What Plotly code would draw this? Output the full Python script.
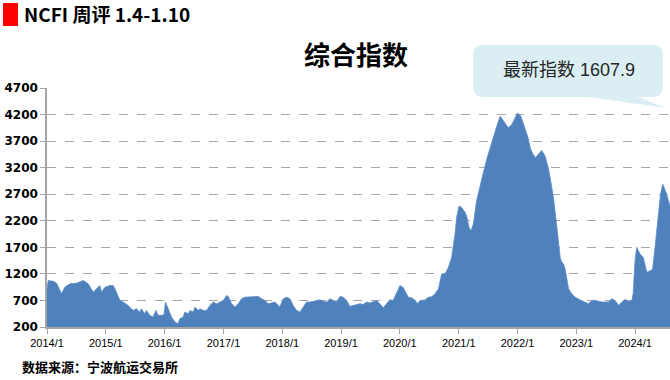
import plotly.graph_objects as go

# ---------------- data ----------------
dates = [
    "2014-01-01", "2014-01-09", "2014-02-09", "2014-03-01", "2014-04-01", "2014-04-22",
    "2014-05-23", "2014-07-03", "2014-08-14", "2014-09-14", "2014-10-15", "2014-11-05",
    "2014-11-25", "2014-12-06", "2014-12-27", "2015-01-26", "2015-02-16", "2015-02-27",
    "2015-03-30", "2015-04-19", "2015-05-20", "2015-06-20", "2015-07-10", "2015-07-31",
    "2015-08-10", "2015-08-31", "2015-09-11", "2015-10-01", "2015-10-22", "2015-11-08",
    "2015-11-23", "2015-12-13", "2015-12-28", "2016-01-07", "2016-01-23", "2016-02-13",
    "2016-03-05", "2016-03-25", "2016-04-05", "2016-04-26", "2016-05-06", "2016-05-27",
    "2016-06-07", "2016-06-27", "2016-07-08", "2016-07-28", "2016-08-08", "2016-08-29",
    "2016-09-18", "2016-10-09", "2016-10-30", "2016-11-19", "2016-12-10", "2016-12-31",
    "2017-01-21", "2017-01-31", "2017-02-21", "2017-03-13", "2017-04-03", "2017-04-23",
    "2017-05-14", "2017-06-25", "2017-08-05", "2017-08-26", "2017-09-16", "2017-10-06",
    "2017-11-17", "2017-12-17", "2018-01-07", "2018-01-28", "2018-02-18", "2018-03-10",
    "2018-03-31", "2018-04-21", "2018-05-11", "2018-06-01", "2018-06-22", "2018-07-13",
    "2018-08-03", "2018-08-23", "2018-09-13", "2018-10-04", "2018-10-24", "2018-11-14",
    "2018-12-05", "2018-12-25", "2019-01-15", "2019-02-05", "2019-02-25", "2019-03-18",
    "2019-04-08", "2019-04-28", "2019-05-19", "2019-06-09", "2019-06-29", "2019-07-20",
    "2019-08-10", "2019-08-30", "2019-09-20", "2019-10-11", "2019-10-31", "2019-11-21",
    "2019-12-12", "2020-01-02", "2020-01-23", "2020-02-02", "2020-02-23", "2020-03-15",
    "2020-04-05", "2020-04-21", "2020-05-06", "2020-06-06", "2020-06-26", "2020-07-17",
    "2020-08-07", "2020-08-28", "2020-09-17", "2020-10-08", "2020-10-29", "2020-11-18",
    "2020-12-09", "2020-12-19", "2021-01-03", "2021-01-19", "2021-02-09", "2021-02-19",
    "2021-03-06", "2021-03-18", "2021-04-02", "2021-04-22", "2021-05-13", "2021-06-03",
    "2021-06-24", "2021-07-14", "2021-08-04", "2021-08-25", "2021-09-15", "2021-10-05",
    "2021-11-05", "2021-11-26", "2021-12-17", "2022-01-01", "2022-01-22", "2022-02-16",
    "2022-03-08", "2022-03-22", "2022-04-08", "2022-04-23", "2022-05-10", "2022-05-31",
    "2022-06-21", "2022-07-11", "2022-07-26", "2022-08-12", "2022-08-29", "2022-09-12",
    "2022-09-23", "2022-10-03", "2022-10-13", "2022-10-24", "2022-11-03", "2022-11-14",
    "2022-12-04", "2022-12-25", "2023-01-25", "2023-02-25", "2023-03-17", "2023-04-08",
    "2023-04-28", "2023-06-09", "2023-07-20", "2023-08-09", "2023-08-30", "2023-09-20",
    "2023-10-10", "2023-10-31", "2023-11-21", "2023-12-12", "2023-12-20", "2024-01-01",
    "2024-01-11", "2024-02-01", "2024-02-21", "2024-03-14", "2024-04-05", "2024-04-19",
    "2024-05-04", "2024-05-24", "2024-06-07", "2024-06-21", "2024-07-12", "2024-08-05",
]
index_values = [
    919, 1075, 1062, 1025, 825, 950,
    1012, 1025, 1075, 1012, 856, 919,
    981, 856, 950, 981, 981, 919,
    700, 669, 606, 512, 544, 481,
    544, 450, 512, 419, 387, 512,
    419, 419, 430, 669, 544, 387,
    294, 262, 356, 387, 481, 450,
    512, 481, 575, 512, 544, 512,
    512, 606, 669, 637, 669, 700,
    794, 775, 637, 575, 637, 731,
    762, 762, 775, 731, 700, 637,
    669, 575, 731, 762, 731, 606,
    512, 481, 575, 669, 669, 687,
    700, 712, 687, 669, 731, 700,
    669, 775, 762, 700, 587, 606,
    625, 637, 625, 669, 650, 669,
    700, 637, 562, 637, 712, 700,
    856, 981, 940, 890, 760, 750,
    700, 640, 700, 710, 760, 770,
    825, 920, 1200, 1200, 1325, 1510,
    1950, 2260, 2480, 2450, 2360, 2290,
    2075, 2010, 2140, 2575, 2860, 3110,
    3360, 3575, 3760, 3980, 4170, 4075,
    3950, 4010, 4140, 4230, 4170, 3950,
    3760, 3560, 3450, 3390, 3450, 3525,
    3420, 3200, 2950, 2640, 2200, 1825,
    1510, 1420, 1390, 1290, 1075, 920,
    825, 760, 710, 670, 640, 700,
    700, 670, 670, 730, 700, 610,
    670, 720, 680, 700, 825, 1450,
    1700, 1575, 1510, 1230, 1260, 1290,
    1700, 2325, 2700, 2890, 2730, 2480,
]

y_ticks = [200, 700, 1200, 1700, 2200, 2700, 3200, 3700, 4200, 4700]
x_tick_dates = ["2014-01-01", "2015-01-01", "2016-01-01", "2017-01-01", "2018-01-01",
                "2019-01-01", "2020-01-01", "2021-01-01", "2022-01-01", "2023-01-01",
                "2024-01-01"]
x_tick_labels = ["2014/1", "2015/1", "2016/1", "2017/1", "2018/1", "2019/1",
                 "2020/1", "2021/1", "2022/1", "2023/1", "2024/1"]

header_text = "NCFI 周评 1.4-1.10"
chart_title = "综合指数"
callout_text = "最新指数 1607.9"
source_text = "数据来源：宁波航运交易所"

# ---------------- layout helpers ----------------
W, H = 670, 380
ML, MR, MT, MB = 47, 0, 88, 53
PW, PH = W - ML - MR, H - MT - MB


def px(x):
    return (x - ML) / PW


def py(y):
    return (H - MB - y) / PH


CJK = "Noto Sans CJK SC"

fig = go.Figure()
fig.add_trace(go.Scatter(
    x=dates, y=index_values, mode="lines", fill="tozeroy",
    fillcolor="#4F81BD", line=dict(color="#5B8CC6", width=0.8),
    hoverinfo="skip", showlegend=False,
))

# callout bubble path (rounded rectangle with tail)
L, R, T, B, r = 473, 663, 45, 97, 10
pts = (
    f"M {px(L + r)},{py(T)} L {px(R - r)},{py(T)} Q {px(R)},{py(T)} {px(R)},{py(T + r)} "
    f"L {px(R)},{py(B - r)} Q {px(R)},{py(B)} {px(R - r)},{py(B)} "
    f"L {px(638)},{py(B)} L {px(666)},{py(108)} L {px(588)},{py(B)} "
    f"L {px(L + r)},{py(B)} Q {px(L)},{py(B)} {px(L)},{py(B - r)} "
    f"L {px(L)},{py(T + r)} Q {px(L)},{py(T)} {px(L + r)},{py(T)} Z"
)

shapes = [
    dict(type="rect", xref="paper", yref="paper", x0=px(3), x1=px(18), y0=py(3), y1=py(26),
         fillcolor="#FF0000", line=dict(width=0), layer="above"),
    dict(type="path", xref="paper", yref="paper", path=pts,
         fillcolor="#DAEEF3", line=dict(width=0), layer="above"),
]

annotations = [
    dict(xref="paper", yref="paper", x=px(22), y=py(14), xanchor="left", yanchor="middle",
         text=header_text, showarrow=False,
         font=dict(family=CJK, size=19, color="#000000", weight="bold")),
    dict(xref="paper", yref="paper", x=px(356), y=py(53), xanchor="center", yanchor="middle",
         text=chart_title, showarrow=False,
         font=dict(family=CJK, size=26, color="#000000", weight="bold")),
    dict(xref="paper", yref="paper", x=px(569), y=py(70), xanchor="center", yanchor="middle",
         text=callout_text, showarrow=False,
         font=dict(family="Liberation Sans, " + CJK, size=18, color="#262626")),
    dict(xref="paper", yref="paper", x=px(20), y=py(366), xanchor="left", yanchor="middle",
         text=source_text, showarrow=False,
         font=dict(family=CJK, size=13, color="#000000", weight="bold")),
]

fig.update_layout(
    width=W, height=H,
    margin=dict(l=ML, r=MR, t=MT, b=MB, pad=0),
    paper_bgcolor="#FFFFFF", plot_bgcolor="#FFFFFF",
    showlegend=False,
    shapes=shapes, annotations=annotations,
    xaxis=dict(
        type="date", range=["2014-01-01", "2024-08-05"],
        tickmode="array", tickvals=x_tick_dates, ticktext=x_tick_labels,
        ticks="outside", ticklen=5, tickcolor="#A6A6A6", tickwidth=1,
        showline=True, linecolor="#A6A6A6", linewidth=1.5,
        showgrid=False, zeroline=False,
        tickfont=dict(family="Liberation Sans", size=11, color="#000000"),
    ),
    yaxis=dict(
        range=[200, 4700], tickmode="array", tickvals=y_ticks,
        ticks="outside", ticklen=5, tickcolor="#A6A6A6", tickwidth=1,
        showline=True, linecolor="#A6A6A6", linewidth=1.5,
        showgrid=True, gridcolor="#A6A6A6", gridwidth=1, griddash="dash",
        zeroline=False,
        tickfont=dict(family="DejaVu Sans", size=12, color="#000000", weight="bold"),
    ),
)

fig.write_html("out.html")
